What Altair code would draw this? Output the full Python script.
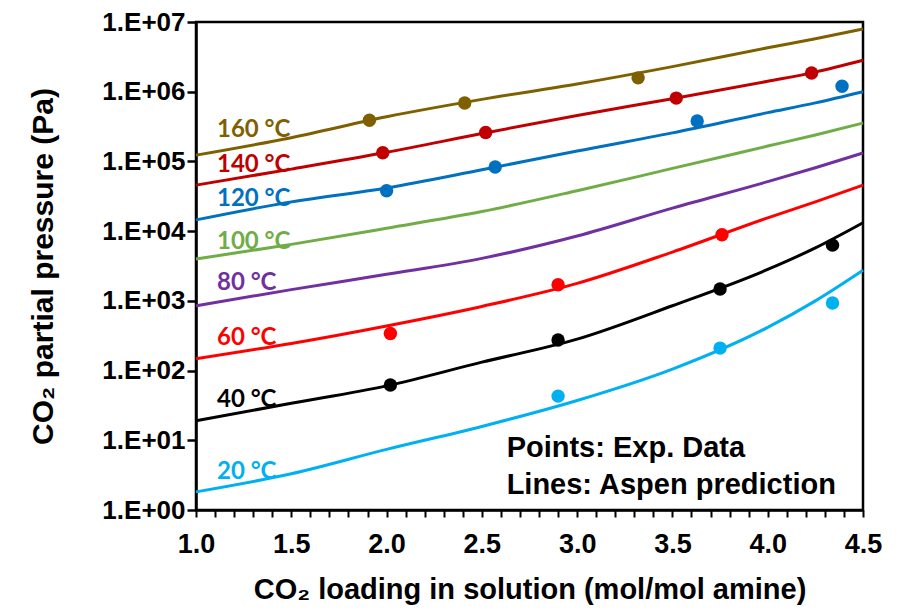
import altair as alt
import pandas as pd

series = ["160 °C", "140 °C", "120 °C", "100 °C", "80 °C", "60 °C", "40 °C", "20 °C"]
colors = ["#7F6000", "#C00000", "#0070C0", "#70AD47", "#7030A0", "#FF0000", "#000000", "#00B0F0"]

# Aspen prediction lines
line_x = [1.0, 1.5, 2.0, 2.5, 3.0, 3.5, 4.0, 4.25, 4.5]
line_160 = [1.23e5, 2.19e5, 4.37e5, 7.76e5, 1.29e6, 2.29e6, 4.27e6, 5.75e6, 7.94e6]
line_140 = [4.57e4, 7.76e4, 1.35e5, 2.51e5, 4.57e5, 7.94e5, 1.41e6, 1.91e6, 2.82e6]
line_120 = [1.45e4, 2.63e4, 4.17e4, 7.59e4, 1.41e5, 2.57e5, 5.01e5, 6.92e5, 1.0e6]
line_100 = [3.98e3, 6.46e3, 1.10e4, 1.91e4, 3.80e4, 7.94e4, 1.66e5, 2.40e5, 3.55e5]
line_80 = [8.51e2, 1.45e3, 2.40e3, 4.07e3, 8.51e3, 2.14e4, 5.13e4, 8.13e4, 1.32e5]
line_60 = [1.48e2, 2.45e2, 4.37e2, 8.32e2, 1.78e3, 5.01e3, 1.55e4, 2.63e4, 4.57e4]
line_40 = [19.1, 33.9, 60.3, 132, 282, 851, 2.82e3, 5.75e3, 1.32e4]
line_20 = [1.82, 3.31, 7.41, 15.8, 37.2, 105, 417, 1.0e3, 2.75e3]

# Experimental points
pts_160_x = [1.91, 2.41, 3.32]
pts_160_y = [3.9e5, 6.9e5, 1.58e6]
pts_140_x = [1.98, 2.52, 3.52, 4.23]
pts_140_y = [1.33e5, 2.6e5, 8.1e5, 1.86e6]
pts_120_x = [2.00, 2.57, 3.63, 4.39]
pts_120_y = [3.8e4, 8.3e4, 3.8e5, 1.2e6]
pts_60_x = [2.02, 2.90, 3.76]
pts_60_y = [3.4e2, 1.7e3, 8.9e3]
pts_40_x = [2.02, 2.90, 3.75, 4.34]
pts_40_y = [62, 275, 1.48e3, 6.3e3]
pts_20_x = [2.90, 3.75, 4.34]
pts_20_y = [43, 210, 930]

# Series label positions
label_x = [1.11] * 8
label_y = [2.8e5, 8.9e4, 2.9e4, 7.1e3, 1.8e3, 295, 38, 3.5]

note_text = ["Points: Exp. Data", "Lines: Aspen prediction"]
note_x = [2.63, 2.63]
note_y = [7.8, 2.3]

x_ticks = [round(1.0 + 0.1 * i, 1) for i in range(36)]
y_ticks = [1, 10, 100, 1e3, 1e4, 1e5, 1e6, 1e7]

line_sets = [line_160, line_140, line_120, line_100, line_80, line_60, line_40, line_20]
rows = []
for s, vals in zip(series, line_sets):
    for xv, yv in zip(line_x, vals):
        rows.append({"series": s, "x": xv, "y": yv})
lines_df = pd.DataFrame(rows)

pt_sets = [("160 °C", pts_160_x, pts_160_y), ("140 °C", pts_140_x, pts_140_y),
           ("120 °C", pts_120_x, pts_120_y), ("60 °C", pts_60_x, pts_60_y),
           ("40 °C", pts_40_x, pts_40_y), ("20 °C", pts_20_x, pts_20_y)]
prow = []
for s, xs, ys in pt_sets:
    for xv, yv in zip(xs, ys):
        prow.append({"series": s, "x": xv, "y": yv})
pts_df = pd.DataFrame(prow)

labels_df = pd.DataFrame({"series": series, "x": label_x, "y": label_y})
notes_df = pd.DataFrame({"text": note_text, "x": note_x, "y": note_y})

color_scale = alt.Scale(domain=series, range=colors)
x_scale = alt.Scale(domain=[1.0, 4.5], nice=False, zero=False)
y_scale = alt.Scale(type="log", domain=[1, 1e7], nice=False)

x_axis = alt.Axis(
    values=x_ticks, tickCount=40,
    labelExpr="abs(datum.value*2 - round(datum.value*2)) < 0.01 ? format(datum.value, '.1f') : ''",
    labelOverlap=False, labelFlush=False,
    grid=False, tickSize=7, tickWidth=2, tickColor="black",
    domainColor="black", domainWidth=2.5,
    labelFont="Liberation Sans", labelFontWeight="bold", labelFontSize=27, labelColor="black",
    labelPadding=14,
    title="CO₂ loading in solution (mol/mol amine)",
    titleFont="Liberation Sans", titleFontWeight="bold", titleFontSize=29, titleColor="black",
    titlePadding=18,
)
y_axis = alt.Axis(
    values=y_ticks,
    labelExpr="'1.E+' + (round(log(datum.value)/LN10) < 10 ? '0' : '') + format(round(log(datum.value)/LN10), 'd')",
    grid=False, tickSize=9, tickWidth=2.5, tickColor="black",
    domainColor="black", domainWidth=2.5,
    labelFont="Liberation Sans", labelFontWeight="bold", labelFontSize=26, labelColor="black",
    labelPadding=2,
    title="CO₂ partial pressure (Pa)",
    titleFont="Liberation Sans", titleFontWeight="bold", titleFontSize=30, titleColor="black",
    titlePadding=43,
)

base_x = alt.X("x:Q", scale=x_scale, axis=x_axis)
base_y = alt.Y("y:Q", scale=y_scale, axis=y_axis)

lines = alt.Chart(lines_df).mark_line(strokeWidth=3, interpolate="monotone").encode(
    x=base_x, y=base_y,
    color=alt.Color("series:N", scale=color_scale, legend=None),
    detail="series:N",
)
points = alt.Chart(pts_df).mark_circle(size=180, opacity=1).encode(
    x="x:Q", y="y:Q",
    color=alt.Color("series:N", scale=color_scale, legend=None),
)
labels = alt.Chart(labels_df).mark_text(
    align="left", baseline="middle", font="Lato", fontWeight="bold", fontSize=24
).encode(
    x="x:Q", y="y:Q", text="series:N",
    color=alt.Color("series:N", scale=color_scale, legend=None),
)
notes = alt.Chart(notes_df).mark_text(
    align="left", baseline="middle", font="Liberation Sans", fontWeight="bold", fontSize=29, color="black"
).encode(x="x:Q", y="y:Q", text="text:N")

chart = alt.layer(lines, points, labels, notes).properties(
    width=667, height=488,
    autosize=alt.AutoSizeParams(type="none"),
    padding={"left": 188, "top": 14, "right": 26, "bottom": 97},
).configure_view(stroke="black", strokeWidth=2.5)

chart.save("out.html", embed_options={"renderer": "svg", "actions": False})
